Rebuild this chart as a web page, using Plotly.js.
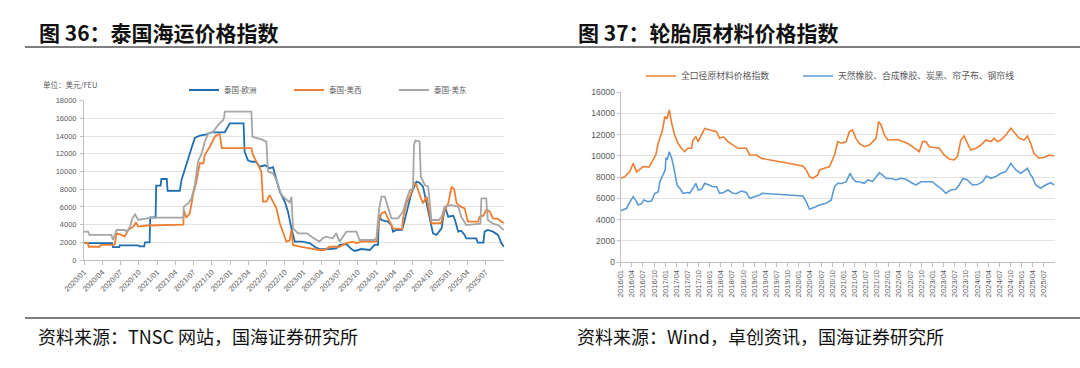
<!DOCTYPE html>
<html>
<head>
<meta charset="utf-8">
<script src="https://cdn.plot.ly/plotly-3.0.1.min.js"></script>
<style>html,body{margin:0;padding:0;background:#fff;}#chart{width:1080px;height:368px;}</style>
</head>
<body>
<div id="chart"></div>
<script>
// ---------- Chart 36: Thailand shipping freight index (USD/FEU) ----------
const euDates = ['2020-01-01','2020-05-20','2020-05-25','2020-06-25','2020-06-28','2020-09-28','2020-10-05','2020-10-28','2020-11-01','2020-11-24','2020-11-27','2020-12-24','2020-12-27','2021-01-18','2021-01-22','2021-02-18','2021-02-22','2021-04-24','2021-05-02','2021-05-24','2021-06-21','2021-07-08','2021-08-02','2021-09-05','2021-09-30','2021-12-05','2021-12-30','2022-03-09','2022-03-14','2022-03-30','2022-04-17','2022-05-10','2022-05-28','2022-06-25','2022-07-17','2022-08-03','2022-08-20','2022-09-06','2022-10-01','2022-10-17','2022-11-03','2022-11-20','2022-12-28','2023-02-04','2023-02-27','2023-03-23','2023-05-12','2023-06-15','2023-07-02','2023-08-05','2023-08-30','2023-09-15','2023-10-19','2023-11-30','2023-12-24','2024-01-10','2024-01-15','2024-01-27','2024-02-29','2024-03-17','2024-03-25','2024-04-11','2024-05-10','2024-05-22','2024-06-08','2024-06-25','2024-07-20','2024-08-06','2024-08-22','2024-09-09','2024-09-25','2024-10-03','2024-10-11','2024-10-28','2024-11-23','2024-12-09','2024-12-26','2025-01-20','2025-01-29','2025-02-14','2025-03-01','2025-03-18','2025-03-26','2025-05-15','2025-05-23','2025-06-20','2025-06-26','2025-07-12','2025-08-07','2025-09-01','2025-09-18','2025-09-30'];
const euVals = [1900,1900,1450,1450,1650,1650,1550,1550,2000,2000,4800,4800,8400,8400,9150,9150,7800,7800,9000,10700,12600,13800,14050,14200,14430,14430,15440,15440,12240,11300,11100,11100,10540,10700,10360,10500,9040,7720,6590,5460,3580,2070,2070,1890,1500,1240,1240,1300,1700,1800,1240,1020,1240,1130,1700,1700,5080,4520,4330,3950,3200,3390,3400,4520,6030,7530,8850,8700,8290,6400,4520,3770,3010,2830,3580,6030,4900,5000,4520,3200,3300,2830,2450,2450,1960,1960,3200,3390,3200,2830,1890,1500];

const uswDates = ['2020-01-01','2020-01-20','2020-01-25','2020-03-19','2020-03-25','2020-05-25','2020-06-03','2020-06-12','2020-07-05','2020-07-23','2020-08-09','2020-09-04','2020-09-17','2020-09-28','2020-11-10','2021-04-24','2021-05-12','2021-05-14','2021-05-27','2021-06-13','2021-06-29','2021-07-16','2021-08-02','2021-08-20','2021-08-27','2021-09-21','2021-10-16','2021-11-02','2021-11-10','2021-11-20','2022-04-17','2022-04-25','2022-05-19','2022-06-06','2022-06-14','2022-07-01','2022-07-17','2022-08-03','2022-08-20','2022-09-06','2022-09-22','2022-10-09','2022-10-25','2022-11-03','2022-11-11','2022-12-15','2023-02-04','2023-03-23','2023-04-20','2023-05-12','2023-07-02','2023-08-05','2023-09-07','2023-09-24','2023-10-19','2024-01-02','2024-01-15','2024-01-27','2024-02-13','2024-02-29','2024-03-25','2024-05-10','2024-05-14','2024-05-31','2024-06-17','2024-07-11','2024-07-20','2024-08-06','2024-08-22','2024-09-09','2024-09-17','2024-10-03','2024-11-20','2024-12-09','2024-12-26','2025-01-12','2025-01-25','2025-02-06','2025-03-01','2025-03-18','2025-04-03','2025-05-25','2025-06-01','2025-06-20','2025-07-04','2025-07-21','2025-08-07','2025-09-01','2025-09-18','2025-09-30'];
const uswVals = [1900,1900,1500,1500,1700,1700,1800,3010,2830,2640,3390,3770,4260,3770,3900,4000,4000,5650,4780,5280,7340,8850,10930,10930,11870,12800,13930,14200,14200,12650,12650,11870,10740,9980,6590,6590,7340,6590,5840,4150,3010,2070,2200,3390,1700,1500,1320,1130,1130,1500,1500,1900,2070,1900,2070,2070,4520,5270,5460,4710,3580,3500,4710,6400,7150,8660,8500,7340,6400,7150,6030,4150,4150,5650,6400,8290,8000,6400,6000,5840,4330,4330,4900,5000,5650,5500,4710,4650,4330,4200];

const useDates = ['2020-01-01','2020-01-22','2020-01-28','2020-05-17','2020-05-25','2020-06-12','2020-07-23','2020-08-01','2020-08-20','2020-08-26','2020-09-12','2020-09-28','2020-11-10','2020-12-26','2021-04-24','2021-05-12','2021-05-14','2021-06-05','2021-06-21','2021-07-08','2021-07-24','2021-08-11','2021-08-27','2021-09-13','2021-10-08','2021-11-02','2021-11-27','2021-12-01','2021-12-05','2022-04-17','2022-04-22','2022-05-19','2022-06-10','2022-07-01','2022-07-09','2022-08-03','2022-08-20','2022-09-14','2022-10-09','2022-10-25','2022-11-03','2022-11-11','2022-12-06','2023-01-20','2023-02-12','2023-03-23','2023-04-10','2023-04-25','2023-05-29','2023-06-15','2023-07-02','2023-08-05','2023-09-24','2023-10-10','2023-12-20','2024-01-02','2024-01-15','2024-01-27','2024-02-13','2024-02-29','2024-03-17','2024-04-19','2024-05-14','2024-05-31','2024-06-17','2024-07-03','2024-07-08','2024-07-15','2024-08-05','2024-08-11','2024-08-31','2024-09-17','2024-10-03','2024-11-10','2024-11-23','2024-12-09','2025-01-10','2025-02-14','2025-03-01','2025-03-26','2025-05-30','2025-06-05','2025-06-10','2025-07-04','2025-07-12','2025-08-07','2025-09-01','2025-09-18','2025-09-30'];
const useVals = [3200,3200,2830,2830,2260,3390,3390,3200,3800,4520,5160,4520,4710,4780,4780,4780,6030,6400,6960,8470,11110,12050,13370,14300,14500,15260,15820,16100,16760,16760,13930,13750,13600,13370,9980,9800,9040,7340,6780,6500,7150,3580,3010,3010,2640,2070,2450,2640,2450,3010,2070,3200,3200,2260,2260,2450,5650,7150,7150,6030,4710,4710,5460,6780,7910,8000,13000,13500,13400,9410,8480,8300,4520,4520,4900,6030,6200,6030,4900,3950,4100,4100,6970,6970,4520,4100,3950,3580,3390];

const freightNames = ['泰国-欧洲','泰国-美西','泰国-美东'];
const freightTicks = ['2020/01','2020/04','2020/07','2020/10','2021/01','2021/04','2021/07','2021/10','2022/01','2022/04','2022/07','2022/10','2023/01','2023/04','2023/07','2023/10','2024/01','2024/04','2024/07','2024/10','2025/01','2025/04','2025/07'];

// ---------- Chart 37: tyre raw material price index ----------
const allDates = ['2016-01-01','2016-02-05','2016-03-16','2016-04-12','2016-05-10','2016-06-01','2016-07-03','2016-08-20','2016-09-23','2016-10-15','2016-11-03','2016-12-09','2016-12-28','2017-01-15','2017-02-02','2017-02-22','2017-03-18','2017-04-15','2017-05-12','2017-06-09','2017-07-03','2017-08-03','2017-08-16','2017-09-08','2017-09-27','2017-10-24','2017-11-20','2018-01-01','2018-02-25','2018-03-22','2018-04-24','2018-05-29','2018-07-09','2018-08-19','2018-10-27','2018-11-24','2019-01-18','2019-02-14','2019-02-28','2020-02-03','2020-03-01','2020-03-28','2020-04-24','2020-06-04','2020-06-18','2020-09-08','2020-10-19','2020-11-15','2020-12-15','2021-01-23','2021-02-18','2021-03-16','2021-04-13','2021-05-10','2021-06-20','2021-08-01','2021-08-28','2021-09-25','2021-10-16','2021-11-05','2021-12-02','2021-12-29','2022-03-19','2022-04-30','2022-06-10','2022-07-20','2022-09-14','2022-10-11','2022-11-08','2022-12-05','2023-02-25','2023-04-06','2023-05-17','2023-06-27','2023-07-24','2023-08-21','2023-09-17','2023-10-14','2023-11-11','2023-12-22','2024-02-02','2024-03-13','2024-04-23','2024-05-20','2024-06-16','2024-07-14','2024-08-24','2024-10-04','2024-11-14','2024-12-11','2025-01-21','2025-02-17','2025-03-15','2025-04-11','2025-05-22','2025-07-02','2025-08-12','2025-09-23'];
const allVals = [7890,8050,8520,9300,8500,8700,9000,8950,9620,10090,11190,12450,13700,13500,14330,13080,11980,11190,10720,10400,10720,10720,11500,11820,11350,11980,12600,12450,12290,11660,11800,11350,11030,10720,10720,10090,10090,9930,9770,9050,8680,8050,7890,8200,8680,9000,10090,11350,11200,11350,12290,12450,11660,11190,10870,11030,11350,11660,13230,12920,11980,11500,11550,11350,11190,10870,10400,11350,11350,10870,10720,10090,9710,9620,9930,11500,11880,11190,10560,10720,11030,11500,11350,11660,11350,11500,11980,12600,11980,11660,11500,11880,11190,10250,9780,9850,10090,10000];

const rubDates = ['2016-01-01','2016-02-19','2016-03-10','2016-04-12','2016-05-10','2016-05-23','2016-06-20','2016-07-08','2016-08-13','2016-09-10','2016-10-07','2016-11-03','2016-11-17','2016-12-14','2016-12-31','2017-01-06','2017-01-18','2017-02-02','2017-02-22','2017-03-10','2017-03-27','2017-04-07','2017-04-29','2017-05-26','2017-07-03','2017-07-19','2017-08-16','2017-09-08','2017-09-27','2017-10-24','2017-11-20','2018-01-28','2018-02-25','2018-03-22','2018-04-24','2018-05-29','2018-07-09','2018-08-06','2018-09-16','2018-10-27','2018-11-24','2019-01-04','2019-02-14','2019-03-06','2020-02-03','2020-03-01','2020-03-28','2020-05-08','2020-06-18','2020-08-12','2020-09-22','2020-10-19','2020-11-15','2020-12-15','2021-01-23','2021-02-24','2021-03-16','2021-04-13','2021-05-10','2021-06-20','2021-07-17','2021-08-28','2021-10-22','2021-11-18','2021-12-16','2022-02-06','2022-03-06','2022-04-16','2022-05-27','2022-07-20','2022-08-17','2022-09-28','2022-11-08','2023-01-02','2023-01-30','2023-03-10','2023-04-20','2023-05-31','2023-07-11','2023-08-07','2023-09-09','2023-10-14','2023-11-24','2024-01-05','2024-02-15','2024-03-18','2024-04-23','2024-06-03','2024-07-14','2024-08-24','2024-10-04','2024-11-14','2024-12-25','2025-02-17','2025-03-15','2025-03-28','2025-04-26','2025-06-05','2025-07-16','2025-08-26','2025-09-23'];
const rubVals = [4840,5060,5530,6160,5690,5370,5500,5850,5690,5750,6480,6600,7570,8200,8680,9780,9700,10400,9780,8990,7900,7260,6950,6480,6550,6480,6950,7420,6790,6850,7420,7100,7100,6480,6550,6790,6480,6450,6690,6550,6000,6170,6320,6480,6220,5690,4970,5160,5370,5530,5850,7100,7420,7400,7570,8360,7890,7570,7570,7420,7730,7600,8420,8200,7890,7850,7730,7890,7800,7420,7260,7570,7550,7570,7260,6950,6480,6790,6850,7260,7890,7730,7260,7300,7570,8110,7890,8050,8360,8520,9300,8680,8360,8830,8200,8050,7260,6950,7260,7480,7260];

const tyreNames = ['全口径原材料价格指数','天然橡胶、合成橡胶、炭黑、帘子布、钢帘线'];
const tyreTicks = [];
for (let y = 2016; y <= 2025; y++) for (const m of ['01','04','07','10']) { if (y === 2025 && m === '10') break; tyreTicks.push(y + '/' + m); }

const toDate = t => t.replace('/', '-') + '-01';

const W = 1080, H = 368;
const px = v => v / W, py = v => 1 - v / H;
const tickFont = {family: 'Arial, Liberation Sans, sans-serif', size: 7.5, color: '#595959'};
const cjk = 'Noto Sans CJK SC, sans-serif';

const traces = [
  {x: euDates, y: euVals, name: freightNames[0], type: 'scatter', mode: 'lines', line: {color: '#1f6eb0', width: 1.8}, xaxis: 'x', yaxis: 'y', legend: 'legend'},
  {x: uswDates, y: uswVals, name: freightNames[1], type: 'scatter', mode: 'lines', line: {color: '#ee7f32', width: 1.8}, xaxis: 'x', yaxis: 'y', legend: 'legend'},
  {x: useDates, y: useVals, name: freightNames[2], type: 'scatter', mode: 'lines', line: {color: '#a6a6a6', width: 1.8}, xaxis: 'x', yaxis: 'y', legend: 'legend'},
  {x: allDates, y: allVals, name: tyreNames[0], type: 'scatter', mode: 'lines', line: {color: '#ee7f32', width: 1.6}, xaxis: 'x2', yaxis: 'y2', legend: 'legend2', legendwidth: 112},
  {x: rubDates, y: rubVals, name: tyreNames[1], type: 'scatter', mode: 'lines', line: {color: '#5b9bd5', width: 1.6}, xaxis: 'x2', yaxis: 'y2', legend: 'legend2'}
];

const layout = {
  width: W, height: H,
  margin: {l: 0, r: 0, t: 0, b: 0},
  paper_bgcolor: '#fff', plot_bgcolor: '#fff',
  showlegend: true,
  xaxis: {
    type: 'date', domain: [px(84), px(504)], anchor: 'y',
    range: ['2020-01-01', '2025-10-01'],
    tickvals: freightTicks.map(toDate), ticktext: freightTicks,
    tickangle: -45, tickfont: tickFont,
    showgrid: false, showline: true, linecolor: '#bfbfbf', linewidth: 1,
    ticks: 'outside', ticklen: 4, tickcolor: '#bfbfbf', zeroline: false
  },
  yaxis: {
    domain: [1 - 260 / H, 1 - 100.7 / H], anchor: 'x',
    range: [0, 18000], dtick: 2000, tickformat: 'd', tickfont: tickFont,
    showgrid: true, gridcolor: '#e3e3e3', gridwidth: 1,
    showline: true, linecolor: '#bfbfbf', ticks: 'outside', ticklen: 3, tickcolor: '#bfbfbf',
    zeroline: false, ticklabelstandoff: 2
  },
  xaxis2: {
    type: 'date', domain: [px(620.7), px(1055)], anchor: 'y2',
    range: ['2016-01-01', '2025-10-01'],
    tickvals: tyreTicks.map(toDate), ticktext: tyreTicks,
    tickangle: -90, tickfont: tickFont,
    showgrid: false, showline: true, linecolor: '#bfbfbf', linewidth: 1,
    ticks: 'outside', ticklen: 4, tickcolor: '#bfbfbf', zeroline: false
  },
  yaxis2: {
    domain: [1 - 262 / H, 1 - 92.3 / H], anchor: 'x2',
    range: [0, 16000], dtick: 2000, tickformat: 'd', tickfont: {family: tickFont.family, size: 8.5, color: '#595959'},
    showgrid: true, gridcolor: '#e3e3e3', gridwidth: 1,
    showline: true, linecolor: '#bfbfbf', ticks: 'outside', ticklen: 3, tickcolor: '#bfbfbf',
    zeroline: false
  },
  legend: {
    orientation: 'h', x: px(184), xanchor: 'left', y: py(90), yanchor: 'middle',
    font: {family: cjk, size: 7.5, color: '#595959'}, bgcolor: 'rgba(0,0,0,0)',
    entrywidth: 60, entrywidthmode: 'pixels', itemwidth: 30
  },
  legend2: {
    orientation: 'h', x: px(641), xanchor: 'left', y: py(76), yanchor: 'middle',
    font: {family: cjk, size: 8.8, color: '#595959'}, bgcolor: 'rgba(0,0,0,0)',
    itemwidth: 30
  },
  annotations: [
    {text: '<b>图 36：泰国海运价格指数</b>', xref: 'paper', yref: 'paper', x: px(37), y: py(32), xanchor: 'left', yanchor: 'middle', showarrow: false, font: {family: cjk, size: 21, color: '#111'}},
    {text: '<b>图 37：轮胎原材料价格指数</b>', xref: 'paper', yref: 'paper', x: px(576), y: py(32), xanchor: 'left', yanchor: 'middle', showarrow: false, font: {family: cjk, size: 21, color: '#111'}},
    {text: '资料来源：TNSC 网站，国海证券研究所', xref: 'paper', yref: 'paper', x: px(36), y: py(336), xanchor: 'left', yanchor: 'middle', showarrow: false, font: {family: cjk, size: 18, color: '#111'}},
    {text: '资料来源：Wind，卓创资讯，国海证券研究所', xref: 'paper', yref: 'paper', x: px(575), y: py(336), xanchor: 'left', yanchor: 'middle', showarrow: false, font: {family: cjk, size: 18, color: '#111'}},
    {text: '单位：美元/FEU', xref: 'paper', yref: 'paper', x: px(41), y: py(85), xanchor: 'left', yanchor: 'middle', showarrow: false, font: {family: cjk, size: 7.5, color: '#595959'}}
  ],
  shapes: [
    {type: 'line', xref: 'paper', yref: 'paper', x0: px(25), x1: 1, y0: py(47), y1: py(47), line: {color: '#555', width: 1.5}},
    {type: 'line', xref: 'paper', yref: 'paper', x0: px(25), x1: 1, y0: py(318), y1: py(318), line: {color: '#555', width: 1.5}}
  ]
};

Plotly.newPlot('chart', traces, layout, {staticPlot: true, displayModeBar: false});
</script>
</body>
</html>
